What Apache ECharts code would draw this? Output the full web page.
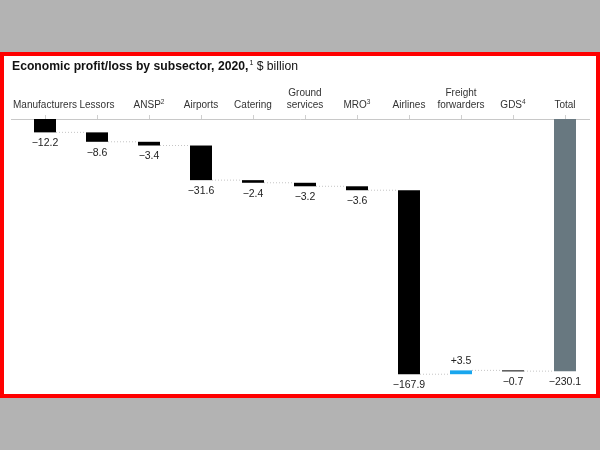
<!DOCTYPE html>
<html><head><meta charset="utf-8">
<script src="https://cdn.jsdelivr.net/npm/echarts@6/dist/echarts.min.js"></script>
<style>
html,body{margin:0;padding:0;width:600px;height:450px;background:#b3b3b3;overflow:hidden}
#frame{position:absolute;left:0;top:52px;width:600px;height:346px;box-sizing:border-box;border:4px solid #ff0000;background:#fff}
#chart{position:absolute;left:0;top:0;width:600px;height:450px}
</style></head><body>
<div id="frame"></div><div id="chart"></div>
<script>
// ---- data ----
const categories = ['Manufacturers','Lessors','ANSP','Airports','Catering','Ground\nservices','MRO','Airlines','Freight\nforwarders','GDS','Total'];
const footnotes  = ['','','2','','','','3','','','4',''];
const changes    = [-12.2,-8.6,-3.4,-31.6,-2.4,-3.2,-3.6,-167.9,3.5,-0.7,-230.1];
const isTotal    = [false,false,false,false,false,false,false,false,false,false,true];

// build waterfall rows [index, start, end]
let run = 0;
const rows = changes.map((v,i)=>{
  if(isTotal[i]) return [i,0,v];
  const r=[i,run,run+v]; run+=v; return r;
});
const fmt = v => v<0 ? '\u2212'+Math.abs(v).toFixed(1) : '+'+v.toFixed(1);
const FONT = '"Liberation Sans", Arial, sans-serif';

const chart = echarts.init(document.getElementById('chart'), null, {renderer:'canvas'});
const option = {
  animation:false,
  backgroundColor:'transparent',
  title:{
    text:'{b|Economic profit/loss by subsector, 2020,}{s|1}{r| $ billion}',
    left:12, top:60, padding:0,
    textStyle:{fontWeight:'normal',rich:{
      b:{fontFamily:FONT,fontWeight:'bold',fontSize:12.2,color:'#111',lineHeight:14},
      s:{fontFamily:FONT,fontWeight:'normal',fontSize:7,color:'#111',lineHeight:7,verticalAlign:'top',padding:[0,0,0,1]},
      r:{fontFamily:FONT,fontWeight:'normal',fontSize:12.2,color:'#111',lineHeight:14}
    }}
  },
  grid:{left:19,width:572,top:119,height:263},
  xAxis:{
    type:'category', data:categories, position:'top', offset:3,
    axisLine:{show:false},
    axisTick:{show:true,alignWithLabel:true,length:4,lineStyle:{color:'#cfcfcf',width:1}},
    axisLabel:{
      interval:0, margin:5, color:'#333', fontFamily:FONT, fontSize:10, lineHeight:12,
      formatter:(val,idx)=> footnotes[idx] ? '{n|'+val+'}{s|'+footnotes[idx]+'}' : val,
      rich:{
        n:{fontFamily:FONT,fontSize:10,color:'#333',lineHeight:12},
        s:{fontFamily:FONT,fontSize:6.5,color:'#333',lineHeight:7,verticalAlign:'top'}
      }
    }
  },
  yAxis:{type:'value',min:-240,max:0,show:false,splitLine:{show:false}},
  series:[{
    type:'custom',
    data:rows,
    encode:{x:0,y:[1,2]},
    renderItem:(params,api)=>{
      const i=api.value(0), s=api.value(1), e=api.value(2);
      const v=changes[i];
      const p1=api.coord([i,s]), p2=api.coord([i,e]);
      const band=api.size([1,0])[0];
      const bw=band*0.423;
      const top=Math.min(p1[1],p2[1]);
      const h=Math.max(Math.abs(p2[1]-p1[1]),1);
      const color = isTotal[i] ? '#687880' : (v>0 ? '#18a6ee' : '#000000');
      const children=[{
        type:'rect',
        shape:{x:p1[0]-bw/2,y:top,width:bw,height:h},
        style:{fill:color}
      },{
        type:'text',
        style:{
          text:fmt(v),
          x:p1[0],
          y: v<0 ? top+h+5.5 : top-4,
          align:'center',
          verticalAlign: v<0 ? 'top' : 'bottom',
          fill:'#222',
          font:'10.5px '+FONT
        }
      }];
      if(i<rows.length-1){
        const yl=p2[1];
        children.push({
          type:'line',
          shape:{x1:p1[0]+bw/2,y1:yl,x2:p1[0]+band-bw/2,y2:yl},
          style:{stroke:'#c4c4c4',lineWidth:1,lineDash:[1,2]}
        });
      }
      return {type:'group',children};
    }
  }]
};
chart.setOption(option);
const y0 = chart.convertToPixel({yAxisIndex:0},0);
chart.setOption({graphic:[{
  type:'line', silent:true,
  shape:{x1:11,y1:Math.round(y0)+0.5,x2:590,y2:Math.round(y0)+0.5},
  style:{stroke:'#c8c8c8',lineWidth:1}
}]});
</script>
</body></html>
